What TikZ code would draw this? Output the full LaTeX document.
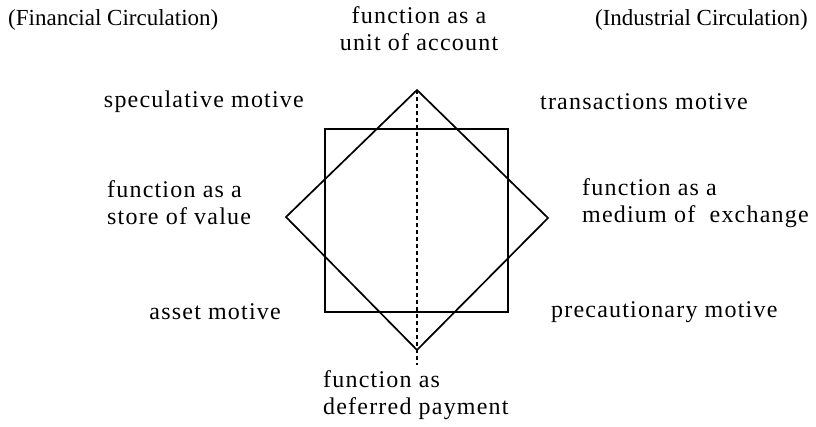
\documentclass[tikz,border=0pt]{standalone}
\usepackage{fontspec}
\setmainfont{Liberation Serif}
\begin{document}
\begin{tikzpicture}[x=1pt,y=-1pt,
  lbl/.style={inner sep=0pt,font=\fontsize{24}{27}\selectfont\addfontfeature{LetterSpace=5}},
  head/.style={inner sep=0pt,font=\fontsize{23}{27}\selectfont},
  shape line/.style={line width=1.7pt,line join=miter},
  axis line/.style={line width=1.2pt,dash pattern=on 4pt off 3pt}]
\useasboundingbox (0,0) rectangle (816,427);
% diamond corners
\coordinate (dt) at (417,90);
\coordinate (dr) at (548,218);
\coordinate (db) at (417,350);
\coordinate (dl) at (286,217);
% square corners
\coordinate (sa) at (325,129);
\coordinate (sb) at (508,129);
\coordinate (sc) at (508,312);
\coordinate (sd) at (325,312);
\coordinate (dend) at (417,365);
\draw[shape line] (sa) -- (sb) -- (sc) -- (sd) -- cycle;
\draw[shape line] (dt) -- (dr) -- (db) -- (dl) -- cycle;
\draw[axis line] (dt) -- (dend);
% labels
\node[head,anchor=west] (fin) at (8,20) {(Financial Circulation)};
\node[head,anchor=east] (ind) at (808,20) {(Industrial Circulation)};
\node[lbl,align=center] (unit) at (419,29) {function as a\\unit of account};
\node[lbl,anchor=east] (spec) at (304,102) {speculative motive};
\node[lbl,anchor=west] (trans) at (540,102) {transactions motive};
\node[lbl,anchor=west,align=left] (store) at (107,203) {function as a\\store of value};
\node[lbl,anchor=west,align=left] (medium) at (582,203) {function as a\\medium of\ \ exchange};
\node[lbl,anchor=east] (asset) at (281,312) {asset motive};
\node[lbl,anchor=west] (prec) at (551,312) {precautionary motive};
\node[lbl,anchor=west,align=left] (defer) at (323,395) {function as\\deferred payment};
\end{tikzpicture}
\end{document}
